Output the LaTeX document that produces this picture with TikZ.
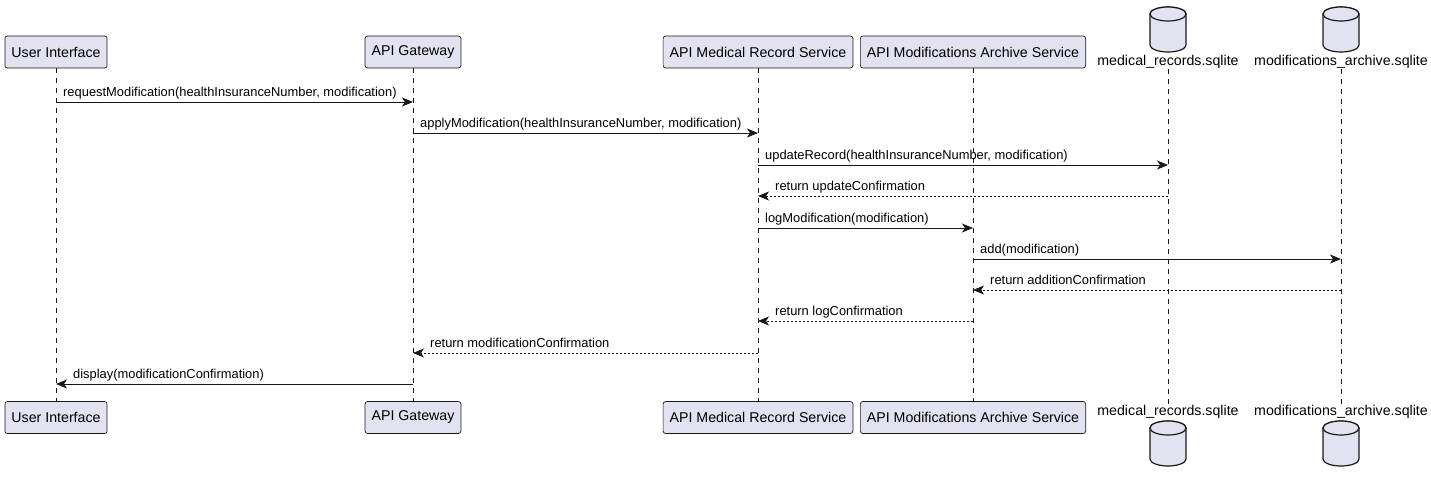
\documentclass[tikz,border=0pt]{standalone}
\usepackage{fontspec}
\setmainfont{Liberation Sans}
\usetikzlibrary{arrows.meta}

\definecolor{umlfill}{HTML}{E2E2F0}
\definecolor{umlline}{HTML}{181818}

\tikzset{
  part/.style={draw=umlline,fill=umlfill,rounded corners=2.5pt,line width=0.7pt,
    minimum height=32pt,inner xsep=6.5pt,font=\fontsize{14.2}{16}\selectfont},
  dbname/.style={inner sep=1pt,font=\fontsize{14.2}{16}\selectfont},
  dbbody/.style={draw=umlline,fill=umlfill,line width=1.2pt},
  life/.style={draw=umlline,line width=0.6pt,dash pattern=on 5pt off 5pt},
  call/.style={draw=umlline,line width=0.8pt,-{Stealth[length=11pt,width=9pt,inset=3pt]}},
  reply/.style={call,dash pattern=on 2pt off 2pt},
  msg/.style={anchor=base west,inner sep=0pt,font=\fontsize{12.9}{15}\selectfont},
}

\begin{document}
\begin{tikzpicture}[x=1pt,y=-1pt]
  \useasboundingbox (0,0) rectangle (1431,482);

  % participants, top and bottom
  \foreach \n/\x/\txt in {ui/56/User Interface,gw/413/API Gateway,
      mrs/758/API Medical Record Service,mas/973/API Modifications Archive Service}{
    \node[part] (\n) at (\x,52) {\txt};
    \node[part] (\n2) at (\x,417.5) {\txt};
  }

  % databases
  \foreach \n/\x/\txt in {mdb/1168/medical\_records.sqlite,adb/1341/modifications\_archive.sqlite}{
    \foreach \t in {7,421}{
      \filldraw[dbbody] (\x-18,\t+7) -- (\x-18,\t+38)
        arc[start angle=180,end angle=0,x radius=18,y radius=7]
        -- (\x+18,\t+7) arc[start angle=0,end angle=-180,x radius=18,y radius=7] -- cycle;
      \draw[dbbody] (\x,\t+7) ellipse[x radius=18,y radius=7];
    }
    \node[dbname] (\n) at (\x,61.5) {\txt};
    \node[dbname] (\n2) at (\x,411.5) {\txt};
  }

  % lifelines
  \foreach \n in {ui,gw,mrs,mas,mdb,adb}
    \draw[life] (\n.south) -- (\n2.north);

  % messages
  \foreach \s/\t/\y/\kind/\l/\dx/\txt [count=\i] in {
      ui/gw/102/call/ui/7/{requestModification(healthInsuranceNumber, modification)},
      gw/mrs/133/call/gw/7/{applyModification(healthInsuranceNumber, modification)},
      mrs/mdb/165/call/mrs/7/{updateRecord(healthInsuranceNumber, modification)},
      mdb/mrs/196/reply/mrs/17/{return updateConfirmation},
      mrs/mas/228/call/mrs/7/{logModification(modification)},
      mas/adb/259/call/mas/7/{add(modification)},
      adb/mas/290/reply/mas/17/{return additionConfirmation},
      mas/mrs/321/reply/mrs/17/{return logConfirmation},
      mrs/gw/353/reply/gw/17/{return modificationConfirmation},
      gw/ui/384/call/ui/17/{display(modificationConfirmation)}}{
    \draw[\kind] (\s |- 0,\y) -- (\t |- 0,\y);
    \node[msg] (m\i) at ([xshift=\dx pt]\l |- 0,\y-5.5) {\txt};
  }
\end{tikzpicture}
\end{document}
